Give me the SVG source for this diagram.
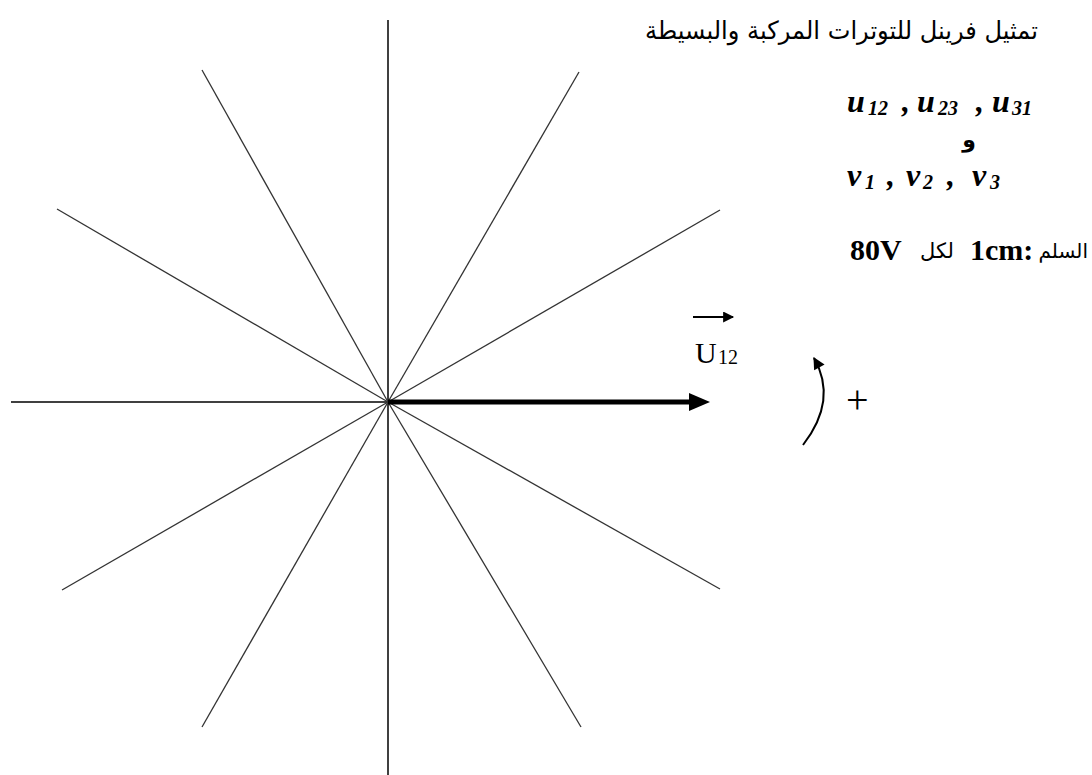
<svg xmlns="http://www.w3.org/2000/svg" width="1092" height="775" viewBox="0 0 1092 775">
<style>
  .axis { stroke: #000; stroke-width: 1.5; fill: none; }
  .ray { stroke: #333; stroke-width: 1.3; fill: none; }
  .ar { font-family: "DejaVu Sans", sans-serif; fill: #000; }
  .lat { font-family: "Liberation Serif", serif; fill: #000; }
  .bi { font-weight: bold; font-style: italic; }
  .b { font-weight: bold; }
</style>
<defs>
  <marker id="head" viewBox="0 0 10 10" refX="9" refY="5" markerWidth="14" markerHeight="11" markerUnits="userSpaceOnUse" orient="auto">
    <path d="M0,0 L10,5 L0,10 z" fill="#000"/>
  </marker>
  <marker id="headS" viewBox="0 0 10 10" refX="9" refY="5" markerWidth="14" markerHeight="12" markerUnits="userSpaceOnUse" orient="auto">
    <path d="M0,0 L10,5 L0,10 z" fill="#000"/>
  </marker>
</defs>
<rect width="1092" height="775" fill="#fff"/>
<g id="connectors">
  <line class="axis" x1="388" y1="20" x2="388" y2="775"/>
  <line class="axis" x1="11" y1="402" x2="388" y2="402"/>
  <line class="ray" x1="388" y1="402" x2="720" y2="210"/>
  <line class="ray" x1="388" y1="402" x2="57" y2="209"/>
  <line class="ray" x1="388" y1="402" x2="62" y2="590"/>
  <line class="ray" x1="388" y1="402" x2="720" y2="589"/>
  <line class="ray" x1="388" y1="402" x2="579" y2="72"/>
  <line class="ray" x1="388" y1="402" x2="202" y2="70"/>
  <line class="ray" x1="388" y1="402" x2="202" y2="727"/>
  <line class="ray" x1="388" y1="402" x2="581" y2="727"/>
</g>
<g id="vector-U12">
  <line x1="388" y1="402" x2="692" y2="402" stroke="#000" stroke-width="5"/>
  <polygon points="689,393 710,402 689,411" fill="#000"/>
  <line x1="693" y1="317" x2="733" y2="317" stroke="#000" stroke-width="1.8" marker-end="url(#head)"/>
  <text class="lat" x="695" y="363" font-size="30">U<tspan x="718" y="364" font-size="20">12</tspan></text>
</g>
<g id="rotation">
  <path d="M803,445 Q838,400 814,358" stroke="#000" stroke-width="2" fill="none" marker-end="url(#headS)"/>
  <text class="lat" x="846" y="413" font-size="40">+</text>
</g>
<g id="title">
  <text class="ar" x="1038" y="39" font-size="25" text-anchor="end" textLength="393" lengthAdjust="spacingAndGlyphs">تمثيل فرينل للتوترات المركبة والبسيطة</text>
</g>
<g id="compound">
  <text class="lat bi" y="112" font-size="32"><tspan x="847">u</tspan><tspan x="868" y="115" font-size="20">12</tspan><tspan x="902" y="112">,</tspan><tspan x="917">u</tspan><tspan x="938" y="115" font-size="20">23</tspan><tspan x="976" y="112">,</tspan><tspan x="992">u</tspan><tspan x="1012" y="115" font-size="20">31</tspan></text>
</g>
<g id="and">
  <text class="ar b" x="969" y="147" font-size="22" text-anchor="middle">و</text>
</g>
<g id="simple">
  <text class="lat bi" y="186" font-size="32"><tspan x="847">v</tspan><tspan x="865" y="189" font-size="20">1</tspan><tspan x="887" y="186">,</tspan><tspan x="906">v</tspan><tspan x="923" y="189" font-size="20">2</tspan><tspan x="947" y="186">,</tspan><tspan x="972">v</tspan><tspan x="990" y="189" font-size="20">3</tspan></text>
</g>
<g id="scale">
  <text class="lat b" x="850" y="260" font-size="30">80V</text>
  <text class="ar" x="937" y="258" font-size="21" text-anchor="middle">لكل</text>
  <text class="lat b" x="970" y="260" font-size="30">1cm:</text>
  <text class="ar" x="1088" y="258" font-size="20" text-anchor="end">السلم</text>
</g>
</svg>
